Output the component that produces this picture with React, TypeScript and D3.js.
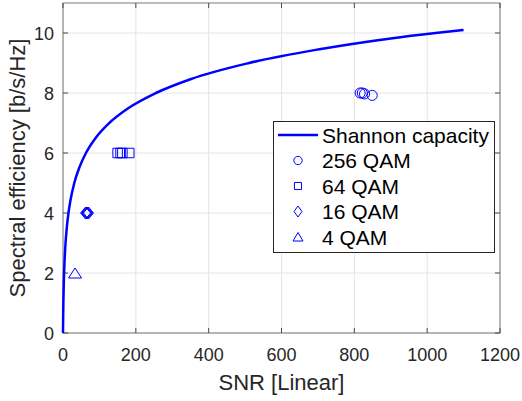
import React, { useRef, useEffect } from "react";
import * as d3 from "d3";

// Shannon curve (SNR, b/s/Hz)
const shannonSnr = [0, 0.5, 1, 2, 3, 5, 7, 10, 15, 20, 31, 45, 63, 90, 127, 180, 255, 350, 511, 700, 900, 1023, 1100];
const shannonCap = [0, 0.58, 1, 1.58, 2, 2.58, 3, 3.46, 4, 4.39, 5, 5.52, 6, 6.51, 7, 7.5, 8, 8.46, 9, 9.45, 9.82, 10, 10.1];

// measured points
const qam256Snr = [816, 822, 828, 849];
const qam256Eff = [8, 8, 7.97, 7.92];
const qam64Snr = [150, 158, 163, 182];
const qam64Eff = [6, 6, 6, 6];
const qam16Snr = [62, 64, 66, 68, 70];
const qam16Eff = [4, 4, 4, 4, 4];
const qam4Snr = [33];
const qam4Eff = [2];

const xTicks = [0, 200, 400, 600, 800, 1000, 1200];
const yTicks = [0, 2, 4, 6, 8, 10];
const legendLabels = ["Shannon capacity", "256 QAM", "64 QAM", "16 QAM", "4 QAM"];

const FONT = "'Liberation Sans', Arial, Helvetica, sans-serif";
const BLUE = "#0000ff";
const INK = "#262626";

const W = 522, H = 401;
const m = { left: 63, right: 500, top: 3, bottom: 333 };

const App = () => {
    const ref = useRef<SVGSVGElement>(null);

    useEffect(() => {
        const svg = d3.select(ref.current);
        svg.selectAll("*").remove();

        const x = d3.scaleLinear().domain([0, 1200]).range([m.left, m.right]);
        const y = d3.scaleLinear().domain([0, 11]).range([m.bottom, m.top]);

        // grid
        const grid = svg.append("g").attr("stroke", "#e4e4e4").attr("stroke-width", 1);
        xTicks.forEach(t => {
            grid.append("line").attr("x1", x(t)).attr("x2", x(t)).attr("y1", m.top).attr("y2", m.bottom);
        });
        yTicks.forEach(t => {
            grid.append("line").attr("y1", y(t)).attr("y2", y(t)).attr("x1", m.left).attr("x2", m.right);
        });

        // box
        svg.append("rect")
            .attr("x", m.left).attr("y", m.top)
            .attr("width", m.right - m.left).attr("height", m.bottom - m.top)
            .attr("fill", "none").attr("stroke", "#7a7a7a").attr("stroke-width", 1);

        // inward ticks
        const ticks = svg.append("g").attr("stroke", "#4a4a4a").attr("stroke-width", 1);
        xTicks.forEach(t => {
            ticks.append("line").attr("x1", x(t)).attr("x2", x(t)).attr("y1", m.bottom).attr("y2", m.bottom - 5);
            ticks.append("line").attr("x1", x(t)).attr("x2", x(t)).attr("y1", m.top).attr("y2", m.top + 5);
        });
        yTicks.forEach(t => {
            ticks.append("line").attr("y1", y(t)).attr("y2", y(t)).attr("x1", m.left).attr("x2", m.left + 5);
            ticks.append("line").attr("y1", y(t)).attr("y2", y(t)).attr("x1", m.right).attr("x2", m.right - 5);
        });

        // tick labels
        svg.append("g").selectAll("text").data(xTicks).join("text")
            .attr("x", d => x(d)).attr("y", 361)
            .attr("text-anchor", "middle")
            .attr("font-family", FONT).attr("font-size", 18).attr("fill", INK)
            .text(d => d);
        svg.append("g").selectAll("text").data(yTicks).join("text")
            .attr("x", 54).attr("y", d => y(d) + 6.5)
            .attr("text-anchor", "end")
            .attr("font-family", FONT).attr("font-size", 18).attr("fill", INK)
            .text(d => d);

        // axis titles
        svg.append("text")
            .attr("x", (m.left + m.right) / 2).attr("y", 390)
            .attr("text-anchor", "middle")
            .attr("font-family", FONT).attr("font-size", 22).attr("fill", INK)
            .text("SNR [Linear]");
        svg.append("text")
            .attr("transform", `translate(25,${(m.top + m.bottom) / 2}) rotate(-90)`)
            .attr("text-anchor", "middle")
            .attr("font-family", FONT).attr("font-size", 22).attr("fill", INK)
            .text("Spectral efficiency [b/s/Hz]");

        // shannon curve
        const line = d3.line<number>()
            .x(d => x(d))
            .y((d, i) => y(shannonCap[i]))
            .curve(d3.curveMonotoneX);
        svg.append("path")
            .datum(shannonSnr)
            .attr("d", line)
            .attr("fill", "none").attr("stroke", BLUE).attr("stroke-width", 2.5);

        const circle = d3.symbol(d3.symbolCircle, 80)();
        const square = d3.symbol(d3.symbolSquare, 90)();
        const diamond = "M0,-6L5,0L0,6L-5,0Z";
        const triangle = "M0,-5L6.5,5L-6.5,5Z";

        const scatter = (xs: number[], ys: number[], shape: string | null) => {
            svg.append("g").selectAll("path").data(xs).join("path")
                .attr("transform", (d, i) => `translate(${x(d)},${y(ys[i])})`)
                .attr("d", shape)
                .attr("fill", "none").attr("stroke", BLUE).attr("stroke-width", 1);
        };
        scatter(qam256Snr, qam256Eff, circle);
        scatter(qam64Snr, qam64Eff, square);
        scatter(qam16Snr, qam16Eff, diamond);
        scatter(qam4Snr, qam4Eff, triangle);

        // legend
        const lg = svg.append("g");
        lg.append("rect")
            .attr("x", 273.5).attr("y", 121.5).attr("width", 221).attr("height", 131)
            .attr("fill", "#fff").attr("stroke", INK).attr("stroke-width", 1);
        const rowY = (i: number) => 135 + i * 25.5;
        lg.append("line")
            .attr("x1", 278).attr("x2", 318).attr("y1", rowY(0)).attr("y2", rowY(0))
            .attr("stroke", BLUE).attr("stroke-width", 2.5);
        const legShapes = [
            d3.symbol(d3.symbolCircle, 55)(),
            d3.symbol(d3.symbolSquare, 50)(),
            "M0,-5.5L4,0L0,5.5L-4,0Z",
            "M0,-4.5L5,4L-5,4Z",
        ];
        legShapes.forEach((s, i) => {
            lg.append("path")
                .attr("transform", `translate(298,${rowY(i + 1)})`)
                .attr("d", s)
                .attr("fill", "none").attr("stroke", BLUE).attr("stroke-width", 1);
        });
        lg.selectAll("text").data(legendLabels).join("text")
            .attr("x", 322).attr("y", (d, i) => rowY(i) + 7.5)
            .attr("font-family", FONT).attr("font-size", 21).attr("fill", "#000")
            .text(d => d);
    }, []);

    return (
        <svg
            ref={ref}
            width={W}
            height={H}
            style={{ position: "absolute", left: 0, top: 0, background: "#fff" }}
        />
    );
};

export default App;
